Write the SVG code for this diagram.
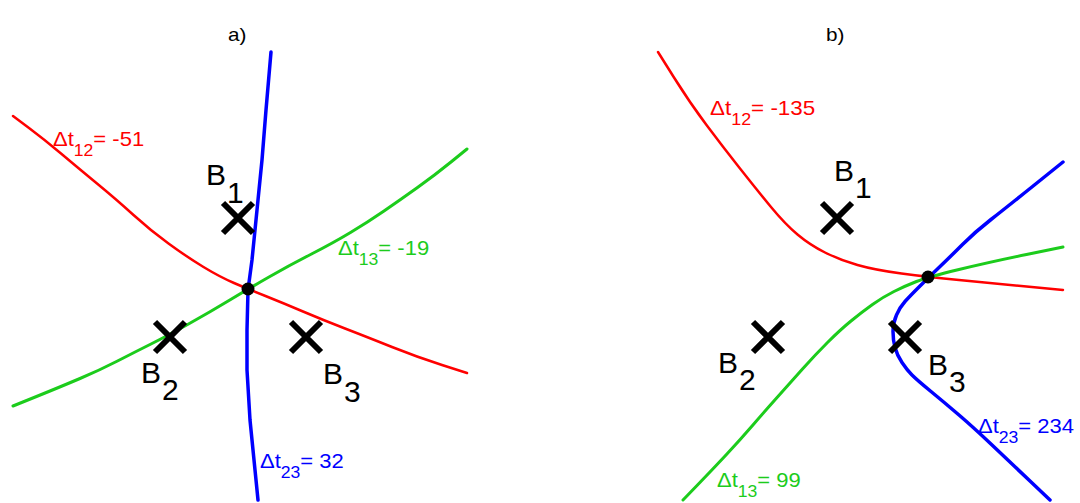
<svg xmlns="http://www.w3.org/2000/svg" width="1080" height="503" viewBox="0 0 1080 503">
<style>
.t{font-family:"Liberation Sans",Arial,sans-serif;}
.lbl{font-size:20px;}
.sub{font-size:16px;}
.big{font-size:30px;fill:#000;}
.title{font-size:18px;fill:#000;}
.r{fill:none;stroke:#ff0000;stroke-width:2.5;stroke-linejoin:round;stroke-linecap:round;}
.g{fill:none;stroke:#1ccc1c;stroke-width:3;stroke-linejoin:round;stroke-linecap:round;}
.b{fill:none;stroke:#0000ff;stroke-width:3.5;stroke-linejoin:round;stroke-linecap:round;}
.x{stroke:#000;stroke-width:6;stroke-linecap:butt;}
</style>
<defs>
<path id="cross" d="M-15,-15L15,15M-15,15L15,-15"/>
</defs>
<rect width="1080" height="503" fill="#fff"/>
<text class="t title" transform="translate(228,41) scale(1.15,1)">a)</text>
<text class="t title" transform="translate(826,41) scale(1.15,1)">b)</text>
<g id="connectors">
<path class="r" d="M13,116 L29,128 Q45,140 61,153.5 Q77,167 97,183.5 Q117,200 133.5,215 Q150,230 168.5,243.5 Q187,257 203.5,267 Q220,277 234,283 Q248,289 265.5,296 Q283,303 303,311.5 Q323,320 345,328.5 Q367,337 392,347 Q417,357 442,365 L467,373"/>
<path class="g" d="M13,406 L36.5,396.5 Q60,387 80,378.5 Q100,370 117.5,361 Q135,352 151,344 Q167,336 188.5,324 Q210,312 229,300.5 Q248,289 269,277 Q290,265 311.5,254 Q333,243 350.5,232.5 Q368,222 384,211 Q400,200 417.5,187.5 Q435,175 451,162 L467,149"/>
<polyline class="b" points="271,52 266,110 262,160 257,210 252,260 248,290 247,330 247,370 250,420 254,460 258,500"/>
<path class="r" d="M658,52 L674,77.5 Q690,103 706.5,125 Q723,147 740,168.5 Q757,190 771,207 Q785,224 797.5,234.5 Q810,245 825,252.5 Q840,260 857.5,265 Q875,270 901.5,273.5 Q928,277 959,280 Q990,283 1026.5,286.5 L1063,290"/>
<path class="g" d="M683,500 L697.5,485 Q712,470 726,455 Q740,440 752.5,425.5 Q765,411 777.5,397 Q790,383 802.5,369 Q815,355 827.5,342.5 Q840,330 851,321 Q862,312 872.5,304.5 Q883,297 894,291.5 Q905,286 916.5,281.5 Q928,277 959,269.5 Q990,262 1026.5,254.5 L1063,247"/>
<path class="b" d="M1063,162 L1035,184.5 Q1007,207 991,219.5 Q975,232 962.5,244.5 Q950,257 939,267.5 Q928,278 919,287 Q910,296 905,301.5 Q900,307 896.5,315 Q893,323 893,331.5 Q893,340 895,347.5 Q897,355 902,362.5 Q907,370 912,375 Q917,380 931,391.5 Q945,403 959,415 Q973,427 991.5,444.5 Q1010,462 1030,481 L1050,500"/>
</g>
<g id="dot-a"><circle cx="248" cy="289" r="6.5" fill="#000"/></g>
<g id="dot-b"><circle cx="928" cy="277" r="6.5" fill="#000"/></g>
<g id="B1a"><use href="#cross" class="x" x="238" y="218"/><text class="t big" x="206" y="185">B<tspan dx="1" dy="18">1</tspan></text></g>
<g id="B2a"><use href="#cross" class="x" x="170" y="337"/><text class="t big" x="141" y="383">B<tspan dx="1" dy="17">2</tspan></text></g>
<g id="B3a"><use href="#cross" class="x" x="306" y="337"/><text class="t big" x="323" y="384">B<tspan dx="1" dy="18">3</tspan></text></g>
<g id="B1b"><use href="#cross" class="x" x="837" y="218"/><text class="t big" x="834" y="181">B<tspan dx="1" dy="17">1</tspan></text></g>
<g id="B2b"><use href="#cross" class="x" x="768" y="337"/><text class="t big" x="718" y="373">B<tspan dx="1" dy="17">2</tspan></text></g>
<g id="B3b"><use href="#cross" class="x" x="905" y="337"/><text class="t big" x="928" y="375">B<tspan dx="1" dy="17">3</tspan></text></g>
<g id="lab-a12"><text class="t lbl" fill="#ff0000" transform="translate(53,146) scale(1.1,1)">Δt<tspan class="sub" dy="10">12</tspan><tspan dy="-10">= -51</tspan></text></g>
<g id="lab-a13"><text class="t lbl" fill="#1ccc1c" transform="translate(338,255) scale(1.1,1)">Δt<tspan class="sub" dy="10">13</tspan><tspan dy="-10">= -19</tspan></text></g>
<g id="lab-a23"><text class="t lbl" fill="#0000ff" transform="translate(260,468) scale(1.1,1)">Δt<tspan class="sub" dy="10">23</tspan><tspan dy="-10">= 32</tspan></text></g>
<g id="lab-b12"><text class="t lbl" fill="#ff0000" transform="translate(710,115) scale(1.12,1)">Δt<tspan class="sub" dy="10">12</tspan><tspan dy="-10">= -135</tspan></text></g>
<g id="lab-b13"><text class="t lbl" fill="#1ccc1c" transform="translate(717,487) scale(1.1,1)">Δt<tspan class="sub" dy="10">13</tspan><tspan dy="-10">= 99</tspan></text></g>
<g id="lab-b23"><text class="t lbl" fill="#0000ff" transform="translate(978,433) scale(1.1,1)">Δt<tspan class="sub" dy="10">23</tspan><tspan dy="-10">= 234</tspan></text></g>
</svg>
